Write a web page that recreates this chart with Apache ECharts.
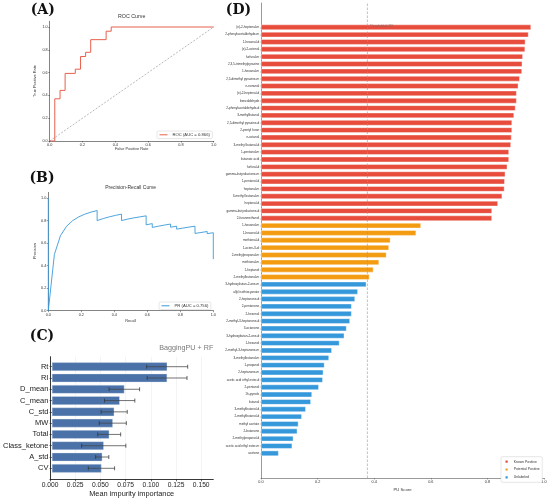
<!DOCTYPE html>
<html><head><meta charset="utf-8">
<script src="https://cdn.jsdelivr.net/npm/echarts@6/dist/echarts.min.js"></script>
<style>html,body{margin:0;padding:0;background:#fff}#c{width:550px;height:501px}</style>
</head><body><div id="c"></div>
<script>
// ---- Panel A: ROC ----
const rocFpr = [0,0.031,0.031,0.063,0.063,0.094,0.094,0.156,0.156,0.188,0.188,0.219,0.219,0.25,0.25,0.344,0.344,0.375,0.375,1.0];
const rocTpr = [0,0,0.370,0.370,0.444,0.444,0.593,0.593,0.630,0.630,0.741,0.741,0.778,0.778,0.889,0.889,0.963,0.963,1.0,1.0];
const rocLabel = 'ROC (AUC = 0.866)';
// ---- Panel B: Precision-Recall ----
const prRecall = [0,0,0.037,0.074,0.111,0.148,0.185,0.222,0.259,0.296,0.296,0.333,0.370,0.407,0.444,0.444,0.481,0.519,0.556,0.593,0.593,0.593,0.630,0.630,0.667,0.704,0.741,0.741,0.778,0.778,0.815,0.852,0.889,0.889,0.889,0.889,0.926,0.963,0.963,1.0,1.0];
const prPrecision = [1.0,0,0.5,0.667,0.75,0.8,0.833,0.857,0.875,0.889,0.8,0.818,0.833,0.846,0.857,0.8,0.813,0.824,0.833,0.842,0.8,0.762,0.773,0.739,0.75,0.76,0.769,0.741,0.75,0.724,0.733,0.742,0.75,0.727,0.706,0.686,0.694,0.703,0.684,0.692,0.458];
const prLabel = 'PR (AUC = 0.756)';
const unitTicks = [0,0.2,0.4,0.6,0.8,1.0];
// ---- Panel C: feature importance ----
const featNames = ['Rt','RI','D_mean','C_mean','C_std','MW','Total','Class_ketone','A_std','CV'];
const featMean = [0.1157,0.1156,0.0727,0.0680,0.0625,0.0611,0.0575,0.0520,0.0505,0.0497];
const featStd = [0.0206,0.0200,0.0153,0.0152,0.0131,0.0136,0.0115,0.0222,0.0066,0.0132];
const featTicks = [0,0.025,0.05,0.075,0.1,0.125,0.15];
// ---- Panel D: PU scores ----
const knownNames = ['(e)-2-heptenal-m','2-phenylacetaldehyde-m','1-hexanal-d','(e)-2-octenal','furfural-m','2,3,5-trimethylpyrazine','1-hexanal-m','2,5-dimethyl pyrazine-m','n-nonanal','(e)-2-heptenal-d','benzaldehyde','2-phenylacetaldehyde-d','3-methylbutanal','2,5-dimethyl pyrazine-d','2-pentyl furan','n-octanal','3-methyl butanal-d','1-pentanol-m','butanoic acid','furfural-d','gamma-butyrolactone-m','1-pentanol-d','heptanal-m','3-methyl butanal-m','heptanal-d','gamma-butyrolactone-d','2-furanmethanol'];
const knownScores = [0.954,0.945,0.934,0.933,0.925,0.923,0.922,0.914,0.909,0.903,0.903,0.899,0.894,0.887,0.887,0.885,0.883,0.876,0.876,0.870,0.863,0.861,0.860,0.852,0.837,0.816,0.816];
const potentialNames = ['1-hexanol-m','1-hexanol-d','methional-d','1-octen-3-ol','2-methylpropanal-m','methional-m','1-heptanol','2-methylbutanol-m'];
const potentialScores = [0.565,0.548,0.457,0.452,0.443,0.417,0.397,0.383];
const unlabeledNames = ['3-hydroxybutan-2-one-m','allyl isothiocyanate','2-heptanone-d','2-pentanone','2-hexenal','2-methyl-3-heptanone-d','3-octanone','3-hydroxybutan-2-one-d','1-hexanol','2-methyl-3-heptanone-m','3-methylbutanol-m','1-propanol','2-heptanone-m','acetic acid ethyl ester-d','2-pentanol','1h-pyrrole','butanal','3-methylbutanol-d','2-methylbutanol-d','methyl acetate','2-butanone','2-methylpropanol-d','acetic acid ethyl ester-m','acetone'];
const unlabeledScores = [0.372,0.342,0.332,0.320,0.320,0.314,0.302,0.294,0.277,0.250,0.240,0.224,0.220,0.218,0.204,0.180,0.176,0.158,0.144,0.132,0.128,0.114,0.110,0.062];
const threshold = 0.376;
const groupNames = ['Known Positive','Potential Positive','Unlabeled'];
const groupColors = ['#e74c3c','#f39c12','#3498db'];

const compounds = knownNames.concat(potentialNames, unlabeledNames);
const nK = knownNames.length, nP = potentialNames.length;
const groupData = [
  compounds.map((n,i)=> i<nK ? knownScores[i] : '-'),
  compounds.map((n,i)=> (i>=nK && i<nK+nP) ? potentialScores[i-nK] : '-'),
  compounds.map((n,i)=> i>=nK+nP ? unlabeledScores[i-nK-nP] : '-')
];

const FF = '"Liberation Sans", Arial, sans-serif';
const axC = '#333';
function unitX(gi, fs){
  return {gridIndex:gi,type:'value',min:0,max:1,
    axisLine:{lineStyle:{color:axC,width:0.6}},
    axisTick:{length:1.5,lineStyle:{color:axC,width:0.5},customValues:unitTicks},
    axisLabel:{fontSize:fs,color:'#333',margin:2,customValues:unitTicks,formatter:v=>v.toFixed(1)},
    splitLine:{show:false}};
}
function unitY(gi){
  return {gridIndex:gi,type:'value',min:0,max:1.05,
    axisLine:{show:true,lineStyle:{color:axC,width:0.6}},
    axisTick:{show:true,length:1.5,lineStyle:{color:axC,width:0.5},customValues:unitTicks},
    axisLabel:{fontSize:3.8,color:'#333',margin:2,customValues:unitTicks,formatter:v=>v.toFixed(1)},
    splitLine:{show:false}};
}
function txt(x,y,t,opt){
  return {type:'text',x:x,y:y,silent:true,z:100,rotation:(opt&&opt.rot)||0,
    style:Object.assign({text:t,fontSize:4,fontFamily:FF,fill:'#222',align:'center',verticalAlign:'middle'},opt&&opt.style||{})};
}
const letterStyle = {fontSize:14,fontWeight:'bold',fontFamily:'"DejaVu Serif", serif',fill:'#111'};

const option = {
  animation:false,
  textStyle:{fontFamily:FF},
  grid:[
    {left:49.7,top:21.3,width:164,height:119.7},
    {left:48.3,top:192.4,width:165,height:118.3},
    {left:50,top:356.7,width:163.3,height:122.6},
    {left:50,top:361.05,width:163.3,height:112.9},
    {left:261,top:3,width:283,height:475},
    {left:261,top:23.6,width:283,height:433.4}
  ],
  xAxis:[
    unitX(0,3.8),
    unitX(1,3.8),
    {gridIndex:2,type:'value',min:0,max:0.162,
      axisLine:{lineStyle:{color:'#222',width:0.9}},
      axisTick:{length:2,lineStyle:{color:'#222',width:0.7},customValues:featTicks},
      axisLabel:{fontSize:6.7,color:'#222',margin:2.5,customValues:featTicks,formatter:v=>v.toFixed(3)},
      splitLine:{show:true,lineStyle:{color:'#ececec',width:0.6}}},
    {gridIndex:3,type:'value',min:0,max:0.162,show:false},
    {gridIndex:4,type:'value',min:0,max:1,
      axisLine:{lineStyle:{color:'#555',width:0.6}},
      axisTick:{length:1.5,lineStyle:{color:'#555',width:0.5},customValues:unitTicks},
      axisLabel:{fontSize:3.8,color:'#333',margin:2,customValues:unitTicks,formatter:v=>v.toFixed(1)},
      splitLine:{show:false}},
    {gridIndex:5,type:'value',min:0,max:1,show:false}
  ],
  yAxis:[
    unitY(0),
    unitY(1),
    {gridIndex:2,type:'value',min:0,max:1,axisLine:{show:true,lineStyle:{color:'#222',width:0.9}},
      axisTick:{show:false},axisLabel:{show:false},splitLine:{show:false}},
    {gridIndex:3,type:'category',inverse:true,data:featNames,
      axisLine:{show:false},
      axisTick:{show:true,alignWithLabel:true,length:2.3,lineStyle:{color:'#222',width:0.7}},
      axisLabel:{fontSize:7.5,color:'#222',margin:3.5},splitLine:{show:false}},
    {gridIndex:4,type:'value',min:0,max:1,axisLine:{show:true,lineStyle:{color:'#555',width:0.6}},
      axisTick:{show:false},axisLabel:{show:false},splitLine:{show:false}},
    {gridIndex:5,type:'category',inverse:true,data:compounds,
      axisLine:{show:false},
      axisTick:{show:true,alignWithLabel:true,length:1.2,lineStyle:{color:'#555',width:0.4}},
      axisLabel:{fontSize:3.1,color:'#333',margin:1.8,interval:0},splitLine:{show:false}}
  ],
  legend:[
    {data:[rocLabel],left:157,top:131,orient:'horizontal',icon:'rect',itemWidth:8,itemHeight:1,
      textStyle:{fontSize:4.2,color:'#333'},borderColor:'#ccc',borderWidth:0.5,borderRadius:1.5,
      padding:[1.8,2.5],backgroundColor:'#fff',selectedMode:false},
    {data:[prLabel],left:159,top:302,orient:'horizontal',icon:'rect',itemWidth:8,itemHeight:1,
      textStyle:{fontSize:4.2,color:'#333'},borderColor:'#ccc',borderWidth:0.5,borderRadius:1.5,
      padding:[1.8,2.5],backgroundColor:'#fff',selectedMode:false},
    {data:groupNames,left:501,top:456.7,orient:'vertical',icon:'rect',itemWidth:4.2,itemHeight:4.2,itemGap:1.7,
      textStyle:{fontSize:3.4,color:'#333'},borderColor:'#ccc',borderWidth:0.5,borderRadius:1.5,
      padding:[1.8,2.5],backgroundColor:'#fff',selectedMode:false}
  ],
  series:[
    {name:rocLabel,type:'line',xAxisIndex:0,yAxisIndex:0,symbol:'none',
      data:rocFpr.map((x,i)=>[x,rocTpr[i]]),color:'#e8604c',lineStyle:{width:1,color:'#e8604c'},z:3},
    {name:'diag',type:'line',xAxisIndex:0,yAxisIndex:0,symbol:'none',silent:true,
      data:[[0,0],[1,1]],lineStyle:{width:0.6,color:'#888',type:[2,1.5]},z:2},
    {name:prLabel,type:'line',xAxisIndex:1,yAxisIndex:1,symbol:'none',
      data:prRecall.map((x,i)=>[x,prPrecision[i]]),color:'#3a9ad9',lineStyle:{width:0.9,color:'#3a9ad9'},z:3},
    {name:'importance',type:'bar',xAxisIndex:3,yAxisIndex:3,data:featMean,barWidth:'76%',
      itemStyle:{color:'#4a72a8',borderColor:'#dfe6f0',borderWidth:0.4}},
    {name:'std',type:'custom',xAxisIndex:3,yAxisIndex:3,z:5,
      data:featMean.map((m,i)=>[m-featStd[i],m+featStd[i],i]),
      encode:{x:[0,1],y:2},
      renderItem:function(params,api){
        const lo=api.coord([api.value(0),api.value(2)]);
        const hi=api.coord([api.value(1),api.value(2)]);
        const h=2; const st={stroke:'#333',lineWidth:0.75};
        return {type:'group',children:[
          {type:'line',shape:{x1:lo[0],y1:lo[1],x2:hi[0],y2:hi[1]},style:{stroke:'#444',lineWidth:0.75}},
          {type:'line',shape:{x1:lo[0],y1:lo[1]-h,x2:lo[0],y2:lo[1]+h},style:st},
          {type:'line',shape:{x1:hi[0],y1:hi[1]-h,x2:hi[0],y2:hi[1]+h},style:st}
        ]};
      }},
    ...groupNames.map((g,k)=>({name:g,type:'bar',stack:'pu',xAxisIndex:5,yAxisIndex:5,
      data:groupData[k],barWidth:'72%',color:groupColors[k],
      itemStyle:{color:groupColors[k],borderColor:'#fff',borderWidth:0.4}})),
    {name:'threshold',type:'line',xAxisIndex:4,yAxisIndex:4,symbol:'none',silent:true,z:6,
      data:[[threshold,0],[threshold,1]],lineStyle:{width:0.6,color:'#999',type:[2.5,1.5]}}
  ],
  graphic:[
    txt(42.8,10,'(A)',{style:letterStyle}),
    txt(42,178,'(B)',{style:letterStyle}),
    txt(42,336.5,'(C)',{style:letterStyle}),
    txt(238.5,10,'(D)',{style:letterStyle}),
    txt(131.7,17,'ROC Curve',{style:{fontSize:5.3,fill:'#333'}}),
    txt(130.7,187.7,'Precision-Recall Curve',{style:{fontSize:5.0,fill:'#333'}}),
    txt(35,81,'True Positive Rate',{rot:Math.PI/2,style:{fontSize:3.9,fill:'#333'}}),
    txt(34.5,251,'Precision',{rot:Math.PI/2,style:{fontSize:3.9,fill:'#333'}}),
    txt(131.7,149.3,'False Positive Rate',{style:{fontSize:3.9,fill:'#333'}}),
    txt(130.7,320.7,'Recall',{style:{fontSize:3.9,fill:'#333'}}),
    txt(213.3,348.3,'BaggingPU + RF',{style:{fontSize:7.2,fill:'#7a7a7a',align:'right'}}),
    txt(131.7,494.3,'Mean impurity importance',{style:{fontSize:7.4,fill:'#222'}}),
    txt(402.5,489.5,'PU Score',{style:{fontSize:4.2,fill:'#333'}}),
    txt(370,25.8,'Threshold=0.376',{style:{fontSize:3.1,fill:'rgba(110,110,110,0.75)',align:'left'}})
  ]
};
echarts.init(document.getElementById('c')).setOption(option);
</script></body></html>
